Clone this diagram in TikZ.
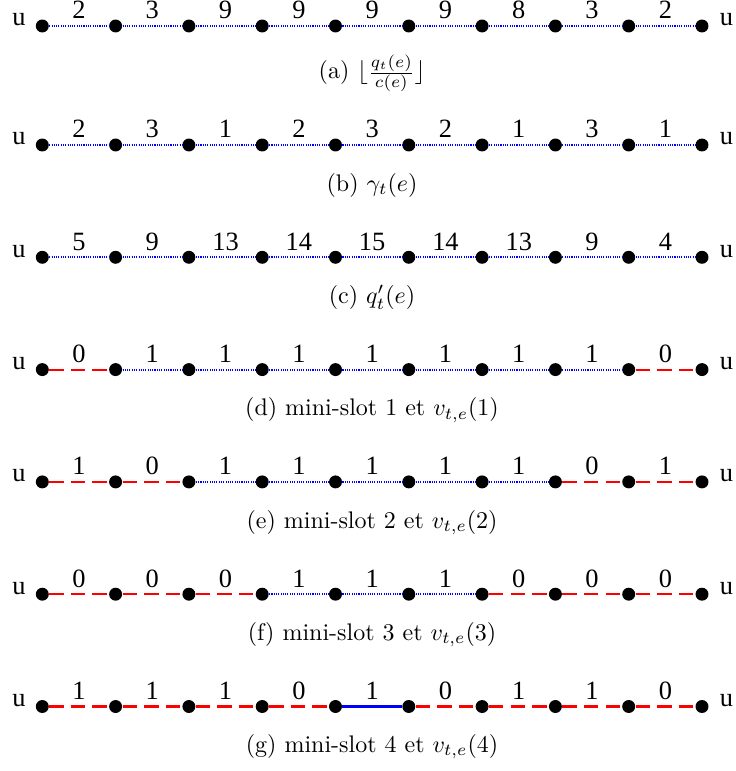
\documentclass[tikz,border=0pt]{standalone}
\usepackage{fontspec}
\newfontfamily\labfont{Liberation Serif}
\newcommand\edgetext[1]{{\labfont\fontsize{11}{13}\selectfont #1}}
\tikzset{
  vtx/.style={circle,fill=black,draw=none,inner sep=0pt,minimum size=5.4pt},
  eb/.style={blue,line width=0.85pt,dash pattern=on 0.45pt off 0.5pt},
  er/.style={red,line width=0.85pt,dash pattern=on 6pt off 3pt},
  es/.style={blue,line width=1.6pt},
  elab/.style={anchor=base,inner sep=0pt},
  capnode/.style={anchor=base,inner sep=0pt}
}
\begin{document}
\begin{tikzpicture}[x=0.41667pt,y=-0.41667pt]
\useasboundingbox (0,0) rectangle (735,771);
\foreach \r/\y/\cy/\data/\captext in {
  a/26/79/{2/eb,3/eb,9/eb,9/eb,9/eb,9/eb,8/eb,3/eb,2/eb}/{(a) $\lfloor \frac{q_t(e)}{c(e)} \rfloor$},
  b/145/191.2/{2/eb,3/eb,1/eb,2/eb,3/eb,2/eb,1/eb,3/eb,1/eb}/{(b) $\gamma_t(e)$},
  c/257.3/303.5/{5/eb,9/eb,13/eb,14/eb,15/eb,14/eb,13/eb,9/eb,4/eb}/{(c) $q'_t(e)$},
  d/369.6/415.6/{0/er,1/eb,1/eb,1/eb,1/eb,1/eb,1/eb,1/eb,0/er}/{(d) mini-slot 1 et $v_{t,e}(1)$},
  e/481.9/528/{1/er,0/er,1/eb,1/eb,1/eb,1/eb,1/eb,0/er,1/er}/{(e) mini-slot 2 et $v_{t,e}(2)$},
  f/594.2/640/{0/er,0/er,0/er,1/eb,1/eb,1/eb,0/er,0/er,0/er}/{(f) mini-slot 3 et $v_{t,e}(3)$},
  g/706.5/752/{1/er,1/er,1/er,0/er,1/es,0/er,1/er,1/er,0/er}/{(g) mini-slot 4 et $v_{t,e}(4)$}
}{
  \foreach \k in {0,...,9}{
    \node[vtx] (\r\k) at ({42.3+73.3*\k},\y) {};
  }
  \node[elab] (\r ul) at (19,\y) {\edgetext{u}};
  \node[elab] (\r ur) at (726.5,\y) {\edgetext{u}};
  \foreach \lbl/\s [count=\i] in \data {
    \pgfmathtruncatemacro\j{\i-1}
    \draw[\s] (\r\j) -- (\r\i);
    \node[elab] (\r lab\i) at ({42.3+73.3*(\i-0.5)},{\y-7}) {\edgetext{\lbl}};
  }
  \node[capnode] (\r cap) at (372,\cy) {\captext};
}
\end{tikzpicture}
\end{document}
